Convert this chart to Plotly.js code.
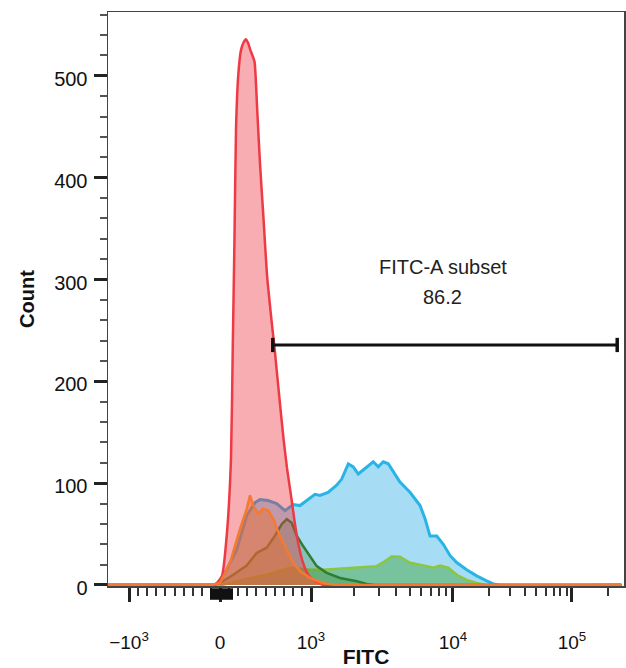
<!DOCTYPE html>
<html><head><meta charset="utf-8">
<script src="https://cdn.plot.ly/plotly-3.0.1.min.js"></script>
<style>body{margin:0;background:#fff}#chart{width:626px;height:668px}</style>
</head><body><div id="chart"></div>
<script>
// FITC intensity values (x) and event counts (y) per series
const blueX = [-1300,-66,-22,74,184,293,385,440,527,623,714,805,879,953,1067,1157,1318,1517,1645,1831,1985,2153,2334,2603,2745,2977,3228,3500,3796,4232,4981,5862,6357,6893,7686,8546,9525,10742,13034,15811,19191,21812,24810,260000];
const blueY = [0,0,2,15,35,68,81,84,83,80,73,79,78,83,89,88,91,98,104,119,116,109,113,119,121,116,121,119,111,101,91,78,65,48,48,40,29,22,15,9,4,1,0,0];

const greenX = [-1300,22,165,330,513,769,879,989,1221,1600,1985,2902,3322,3699,4232,4981,5862,7259,8094,9266,10742,13034,15811,19191,260000];
const greenY = [0,0,3,7,10,17,16,15,15,16,17,18.5,23.5,28,27.7,21.8,20,17,19,17,10,5,2,0,0];

const dkgreenX = [-1300,-66,0,146,293,403,513,604,678,733,788,843,915,989,1097,1290,1600,2099,2468,2822,260000];
const dkgreenY = [0,0,2,10,19,31.5,36.6,48.5,59.7,64.7,61,48.5,38,28.4,18.5,11.9,6.9,3.6,1,0,0];

const redX = [-1300,-110,-60,-22,22,77,121,140,159,176,200,230,260,285,310,335,379,407,440,478,516,560,599,659,699,736,780,819,857,912,978,1084,1227,260000];
const redY = [0,0,0,3,9,52,125,233,340,448,500,525,533,536,532,525,514,470,413,360,305,265,233,178,143,115,88,63,42,22,9,3,0,0];

const orangeX = [-1300,-88,0,110,220,293,330,366,421,476,531,586,659,733,805,879,989,1215,1476,260000];
const orangeY = [0,0,2,21.8,55,74.5,88,78,70,75,73,64.7,48,35,21.8,13.6,7,2,0,0];

const majorTickValues = [-1000, 0, 1000, 10000, 100000];
const majorTickText = ['\u221210<sup>3</sup>', '0', '10<sup>3</sup>', '10<sup>4</sup>', '10<sup>5</sup>'];
const yTickValues = [0, 100, 200, 300, 400, 500];

const gateLow = 580, gateHigh = 240000, gateCount = 235.7;
const gateLabel = 'FITC-A subset', gatePercent = '86.2';

// biexponential-like display transform
function biex(v){
  if (v <= 1000) return v/1000;
  if (v <= 1e4) return 1 + Math.log10(v/1000)*142/91;
  return 1 + 142/91 + Math.log10(v/1e4)*119/91;
}

const minorVals = [];
for (let v=-900; v<=900; v+=100) if (v!==0) minorVals.push(v);
for (let v=2000; v<=9000; v+=1000) minorVals.push(v);
for (let v=20000; v<=90000; v+=10000) minorVals.push(v);
minorVals.push(200000);

function tr(x, y, line, fill, w, shape){
  return {x: x.map(biex), y: y, type:'scatter', mode:'lines', fill:'tozeroy', fillcolor: fill,
    line:{color: line, width: w, shape: shape||'linear', smoothing:0.5}, hoverinfo:'skip', showlegend:false};
}

const data = [
  tr(blueX, blueY, '#2ab4e6', 'rgba(60,180,230,0.45)', 3),
  tr(greenX, greenY, '#8cc63f', 'rgba(70,170,70,0.5)', 2.5),
  tr(dkgreenX, dkgreenY, '#2f7d32', 'rgba(60,130,50,0.3)', 2.5),
  tr(redX, redY, '#ee3a45', 'rgba(236,50,62,0.4)', 2.5, 'spline'),
  tr(orangeX, orangeY, '#f47a32', 'rgba(240,110,40,0.45)', 2.5)
];

const font = {family:'"Liberation Sans", Arial, sans-serif', color:'#111'};

const layout = {
  width:626, height:668,
  margin:{l:108, r:2, t:12, b:82},
  paper_bgcolor:'#fff', plot_bgcolor:'#fff',
  font: font,
  xaxis:{
    range:[-1.231, 4.44], showgrid:false, zeroline:false,
    showline:true, linecolor:'#444', linewidth:1.5, mirror:true,
    tickmode:'array', tickvals: majorTickValues.map(biex), ticktext: majorTickText,
    ticks:'outside', ticklen:14, tickwidth:3, tickcolor:'#222',
    ticklabelstandoff: 25,
    tickfont:{size:19, family:font.family, color:'#111'},
    minor:{tickmode:'array', tickvals: minorVals.map(biex), ticks:'outside', ticklen:8, tickwidth:2, tickcolor:'#333'},
    title:{text:'<b>FITC</b>', font:{size:21, family:font.family, color:'#111'}, standoff:0}
  },
  yaxis:{
    range:[-1, 562.7], showgrid:false, zeroline:false,
    showline:true, linecolor:'#444', linewidth:1.5, mirror:true,
    tickmode:'array', tickvals: yTickValues,
    ticks:'outside', ticklen:13, tickwidth:3, tickcolor:'#222',
    ticklabelstandoff: 2, ticklabelshift: 3,
    tickfont:{size:20, family:font.family, color:'#111'},
    minor:{dtick:20, ticks:'outside', ticklen:7, tickwidth:2, tickcolor:'#555'},
    title:{text:'<b>Count</b>', font:{size:20, family:font.family, color:'#111'}, standoff:14}
  },
  shapes:[
    {type:'line', xref:'x', yref:'y', x0:biex(gateLow), x1:biex(gateHigh), y0:gateCount, y1:gateCount, line:{color:'#111', width:3}},
    {type:'line', xref:'x', yref:'y', x0:biex(gateLow), x1:biex(gateLow), y0:gateCount-7, y1:gateCount+7, line:{color:'#111', width:3.5}},
    {type:'line', xref:'x', yref:'y', x0:biex(gateHigh), x1:biex(gateHigh), y0:gateCount-7, y1:gateCount+7, line:{color:'#111', width:3.5}},
    {type:'rect', xref:'x', yref:'paper', x0:biex(-110), x1:biex(143), y0:-0.004, y1:-0.024, fillcolor:'#111', line:{width:0}}
  ],
  annotations:[
    {xref:'x', yref:'y', x:biex(8500), y:312, text:gateLabel, showarrow:false, font:{size:20, family:font.family, color:'#222'}},
    {xref:'x', yref:'y', x:biex(8500), y:283, text:gatePercent, showarrow:false, font:{size:20, family:font.family, color:'#222'}}
  ]
};

Plotly.newPlot('chart', data, layout, {displayModeBar:false, staticPlot:true});
</script>
</body></html>
